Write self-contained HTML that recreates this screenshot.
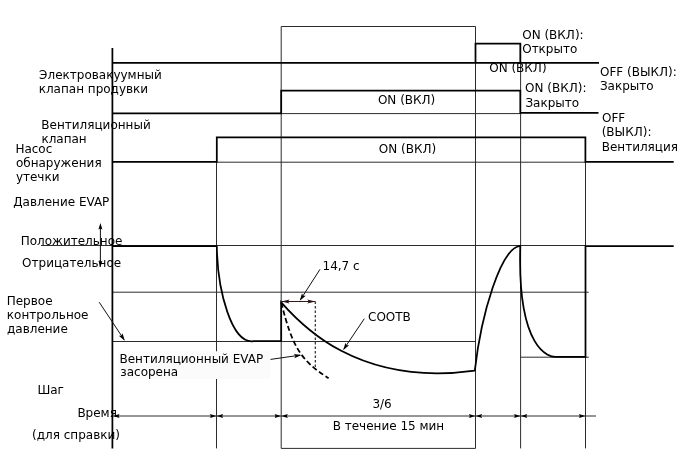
<!DOCTYPE html>
<html lang="ru">
<head>
<meta charset="utf-8">
<title>EVAP</title>
<style>
html,body{margin:0;padding:0;background:#fff;}
body{width:688px;height:463px;overflow:hidden;}
svg{display:block;}
text{font-family:"DejaVu Sans","Liberation Sans",sans-serif;font-size:12px;fill:#000;}
.k{stroke:#000;stroke-width:1.75;fill:none;stroke-linejoin:miter;}
.t{stroke:#2c2c2c;stroke-width:1;fill:none;}
.a{stroke:#111;stroke-width:1;fill:none;}
.d{stroke:#2a1c1c;stroke-width:1;fill:none;}
</style>
</head>
<body>
<svg width="688" height="463" viewBox="0 0 688 463">
<rect width="688" height="463" fill="#fff"/>
<!-- thin grid -->
<g class="t">
<path d="M281.2 448.4V26.5H475.5V448.4Z"/>
<path d="M216.5 137.5V448.4"/>
<path d="M520.6 43.5V448.4"/>
<path d="M585.5 137.5V448.4"/>
<path d="M281 113.6H520.5"/>
<path d="M216.5 162.2H585.5"/>
<path d="M41 245.5H585.5"/>
<path d="M112.5 292.2H588.7"/>
<path d="M112.5 341.5H475.5"/>
<path d="M520.5 357.2H588.8"/>
<path d="M112.5 416H596"/>
</g>
<!-- label bg -->
<rect x="118.5" y="351.3" width="151.7" height="27.7" fill="#fbfbfb"/>
<!-- thick -->
<g class="k">
<path d="M112.4 48V448.4"/>
<path d="M112.4 62.8H599"/>
<path d="M475.5 62.8V43.5H520.3V62.8"/>
<path d="M112.4 113.4H281.2V90.5H520.3V112.9H598.5"/>
<path d="M112.4 161.9H216.8V137.4H585.4V161.9H673.7"/>
<path d="M112.4 246H216.8C217.5 291.5 231.8 344.5 253.8 341.2H281.2V302.3C299.9 323.5 356.8 387 474.8 370.6C481.2 314.3 500.8 247.7 520.3 245.9C517.1 351.1 549.6 357 555.8 356.9H585.5V246H673.7"/>
</g>
<path class="k" stroke-dasharray="5.3 2.8" d="M281.2 302.3C292.3 346.8 300.4 360.3 328.6 378.2"/>
<!-- dim 14,7 -->
<g class="d">
<path d="M281.2 301.5H315.3"/>
<path d="M315.3 301.5V368.6" stroke-dasharray="2.6 1.9" stroke-width="1.15"/>
</g>
<path d="M281.5 301.5L289.5 299.4L288.0 301.5L289.5 303.6Z M315.3 301.5L307.3 303.6L308.8 301.5L307.3 299.4Z" fill="#2a1414"/>
<!-- leaders -->
<g class="a">
<path d="M320 269.3L300.6 299.5"/>
<path d="M364.3 318.7L343.9 349"/>
<path d="M99.2 302.2L124 339.5"/>
<path d="M270.5 359.4L300 355.2"/>
<path d="M100.4 226V264"/>
</g>
<g fill="#000">
<path d="M299.8 300.8L302.0 293.3L303.0 295.7L305.7 295.7Z M343.1 350.3L345.5 342.8L346.4 345.3L349.1 345.3Z M124.8 340.7L118.8 335.7L121.5 335.7L122.5 333.2Z M301.5 355.0L294.4 358.2L295.6 355.8L293.8 353.9Z M100.4 223.0L102.4 229.5L100.4 228.5L98.4 229.5Z M100.4 267.2L98.4 260.7L100.4 261.7L102.4 260.7Z"/>
<!-- time arrows -->
<path d="M113.2 416.0L119.5 414.1L118.5 416.0L119.5 417.9Z M216.2 416.0L209.9 417.9L210.9 416.0L209.9 414.1Z M216.8 416.0L223.1 414.1L222.1 416.0L223.1 417.9Z M280.9 416.0L274.6 417.9L275.6 416.0L274.6 414.1Z M281.5 416.0L287.8 414.1L286.8 416.0L287.8 417.9Z M475.2 416.0L468.9 417.9L469.9 416.0L468.9 414.1Z M475.8 416.0L482.1 414.1L481.1 416.0L482.1 417.9Z M520.3 416.0L514.0 417.9L515.0 416.0L514.0 414.1Z M520.9 416.0L527.2 414.1L526.2 416.0L527.2 417.9Z M585.2 416.0L578.9 417.9L579.9 416.0L578.9 414.1Z"/>
</g>
<!-- text -->
<text x="39.1" y="78.9">Электровакуумный</text>
<text x="38.7" y="92.9">клапан продувки</text>
<text x="41.3" y="128.8">Вентиляционный</text>
<text x="41.4" y="142.8">клапан</text>
<text x="15.4" y="152.9">Насос</text>
<text x="15.9" y="166.9">обнаружения</text>
<text x="15.9" y="181">утечки</text>
<text x="13.2" y="205.9">Давление EVAP</text>
<text x="20.7" y="244.8">Положительное</text>
<text x="22.1" y="266.8">Отрицательное</text>
<text x="6.7" y="304.7">Первое</text>
<text x="6.8" y="318.8">контрольное</text>
<text x="7.0" y="333">давление</text>
<text x="119.5" y="362.7">Вентиляционный EVAP</text>
<text x="120.3" y="376.3">засорена</text>
<text x="37.4" y="393.9">Шаг</text>
<text x="77.4" y="416.6">Время</text>
<text x="32.1" y="438.8">(для справки)</text>
<text x="522.2" y="38.5">ON (ВКЛ):</text>
<text x="522.2" y="52.8">Открыто</text>
<text x="489.2" y="72.3">ON (ВКЛ)</text>
<text x="525.1" y="92.4">ON (ВКЛ):</text>
<text x="525.4" y="106.8">Закрыто</text>
<text x="600.0" y="75.5">OFF (ВЫКЛ):</text>
<text x="599.9" y="89.6">Закрыто</text>
<text x="602.0" y="122.3">OFF</text>
<text x="601.7" y="136.3">(ВЫКЛ):</text>
<text x="601.7" y="150.5">Вентиляция</text>
<text x="377.9" y="103.8">ON (ВКЛ)</text>
<text x="378.8" y="152.8">ON (ВКЛ)</text>
<text x="322.5" y="269.8">14,7 с</text>
<text x="368.0" y="320.6">СООТВ</text>
<text x="372.4" y="407.7">3/6</text>
<text x="332.7" y="429.5">В течение 15 мин</text>
</svg>
</body>
</html>
